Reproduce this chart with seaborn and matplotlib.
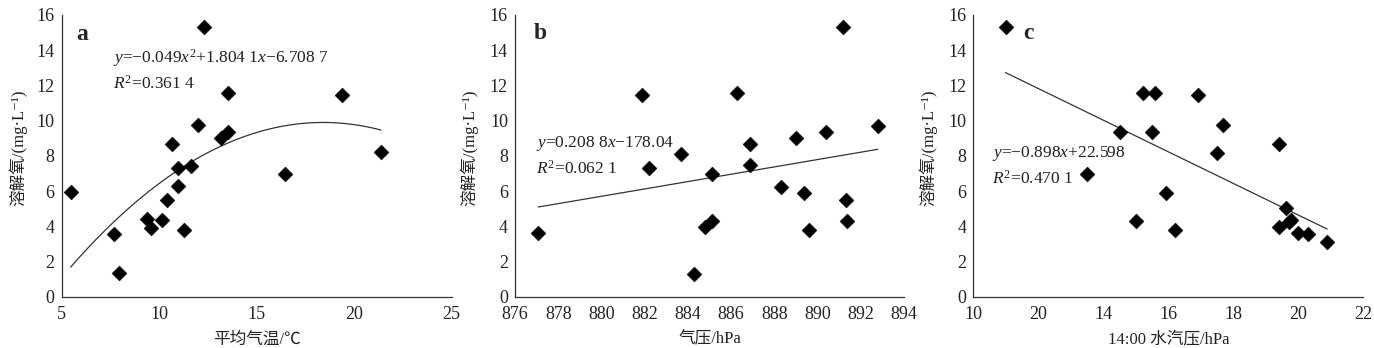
import numpy as np
import pandas as pd
import matplotlib
matplotlib.use("Agg")
import matplotlib.pyplot as plt
import seaborn as sns

# ---------------- data ----------------
temp_a = [5.46, 7.68, 7.96, 9.36, 9.58, 10.16, 10.40, 10.68, 10.98, 10.98,
          11.26, 11.63, 12.01, 12.30, 13.15, 13.53, 13.53, 16.45, 19.39, 21.38]
do_a = [5.93, 3.56, 1.33, 4.39, 3.90, 4.36, 5.49, 8.66, 7.29, 6.31,
        3.79, 7.42, 9.77, 15.30, 9.02, 9.34, 11.59, 6.97, 11.46, 8.20]

pres_b = [877.08, 881.89, 882.19, 883.70, 884.26, 884.80, 885.11, 885.12, 886.25, 886.88,
          886.88, 888.28, 889.00, 889.37, 889.61, 890.39, 891.19, 891.32, 891.36, 892.78]
do_b = [3.64, 11.46, 7.29, 8.11, 1.27, 3.96, 6.97, 4.28, 11.55, 8.67,
        7.46, 6.23, 9.02, 5.91, 3.79, 9.34, 15.30, 5.51, 4.28, 9.70]

vap_c = [10.99, 13.49, 14.52, 15.02, 15.21, 15.51, 15.58, 15.92, 16.21, 16.90,
         17.51, 17.68, 19.41, 19.41, 19.62, 19.70, 19.77, 19.98, 20.31, 20.89]
do_c = [15.30, 6.95, 9.38, 4.32, 11.57, 9.38, 11.57, 5.91, 3.79, 11.46,
        8.16, 9.73, 8.67, 3.96, 5.02, 4.24, 4.34, 3.64, 3.54, 3.09]

# fitted coefficients (highest power first), as printed on the chart
coef_a = [-0.049, 1.8041, -6.7087]
coef_b = [0.2088, -178.04]
coef_c = [-0.898, 22.598]

eq_a = r"$y$=−0.049$x^2$+1.804 1$x$−6.708 7"
r2_a = r"$R^2$=0.361 4"
eq_b = r"$y$=0.208 8$x$−178.04"
r2_b = r"$R^2$=0.062 1"
eq_c = r"$y$=−0.898$x$+22.598"
r2_c = r"$R^2$=0.470 1"

panel_letters = ["a", "b", "c"]
xlabels = ["平均气温/℃", "气压/hPa", "14:00 水汽压/hPa"]
ylabel = "溶解氧/(mg·L⁻¹)"

xticks_a = [5, 10, 15, 20, 25]
xticks_b = [876, 878, 880, 882, 884, 886, 888, 890, 892, 894]
xticks_c = [10, 12, 14, 16, 18, 20, 22]
xticklabels_c = ["10", "20", "14", "16", "18", "20", "22"]
yticks = [0, 2, 4, 6, 8, 10, 12, 14, 16]

# ---------------- style ----------------
sns.set_style("white")
plt.rcParams["font.family"] = ["Liberation Serif", "Noto Sans CJK SC", "DejaVu Sans"]
plt.rcParams["mathtext.fontset"] = "custom"
plt.rcParams["mathtext.rm"] = "Liberation Serif"
plt.rcParams["mathtext.it"] = "Liberation Serif:italic"
plt.rcParams["mathtext.bf"] = "Liberation Serif:bold"
plt.rcParams["axes.unicode_minus"] = True

fig = plt.figure(figsize=(13.74, 3.48), dpi=100)
bottom, height = 0.1474, 0.8095
lefts = [0.0449, 0.3748, 0.7084]
widths = [0.2838, 0.2833, 0.2838]
ylabel_x = [-0.089, -0.095, -0.093]
axes = [fig.add_axes([l, bottom, w, height]) for l, w in zip(lefts, widths)]

panels = [
    (temp_a, do_a, coef_a, (5, 25), xticks_a, None, eq_a, r2_a,
     (5.75, 14.9), (7.62, 13.55), (7.62, 12.07)),
    (pres_b, do_b, coef_b, (876, 894), xticks_b, None, eq_b, r2_b,
     (876.85, 14.95), (876.95, 8.68), (876.95, 7.24)),
    (vap_c, do_c, coef_c, (10, 22), xticks_c, xticklabels_c, eq_c, r2_c,
     (11.55, 14.95), (10.58, 8.11), (10.58, 6.69)),
]

for i, (ax, p) in enumerate(zip(axes, panels)):
    xs, ys, coef, xlim, xt, xtl, eq, r2, lpos, epos, rpos = p
    df = pd.DataFrame({"x": xs, "y": ys})
    # fitted curve from printed coefficients, over data range
    xfit = np.linspace(min(xs), max(xs), 200)
    yfit = np.polyval(coef, xfit)
    sns.lineplot(x=xfit, y=yfit, ax=ax, color="#333333", linewidth=0.9)
    sns.scatterplot(data=df, x="x", y="y", ax=ax, marker="D", s=58,
                    color="black", edgecolor="black", linewidth=0.3, zorder=3)
    ax.set_xlim(*xlim)
    ax.set_ylim(0, 16)
    ax.set_xticks(xt)
    if xtl is not None:
        ax.set_xticklabels(xtl)
    ax.set_yticks(yticks)
    ax.tick_params(axis="both", direction="in", length=3.5, width=0.8, labelsize=13,
                   colors="#222222")
    ax.tick_params(axis="x", pad=7)
    ax.tick_params(axis="y", pad=5)
    for s in ["top", "right"]:
        ax.spines[s].set_visible(False)
    for s in ["left", "bottom"]:
        ax.spines[s].set_color("#333333")
        ax.spines[s].set_linewidth(0.9)
    ax.set_xlabel(xlabels[i], fontsize=12, color="#222222", labelpad=6)
    ax.set_ylabel(ylabel, fontsize=12, color="#222222")
    ax.yaxis.set_label_coords(ylabel_x[i], 0.53)
    ax.text(lpos[0], lpos[1], panel_letters[i], fontsize=17, fontweight="bold",
            va="center", ha="left")
    ax.text(epos[0], epos[1], eq, fontsize=12.5, va="center", ha="left", color="#222222")
    ax.text(rpos[0], rpos[1], r2, fontsize=12.5, va="center", ha="left", color="#222222")

fig.savefig("out.png", dpi=100)
